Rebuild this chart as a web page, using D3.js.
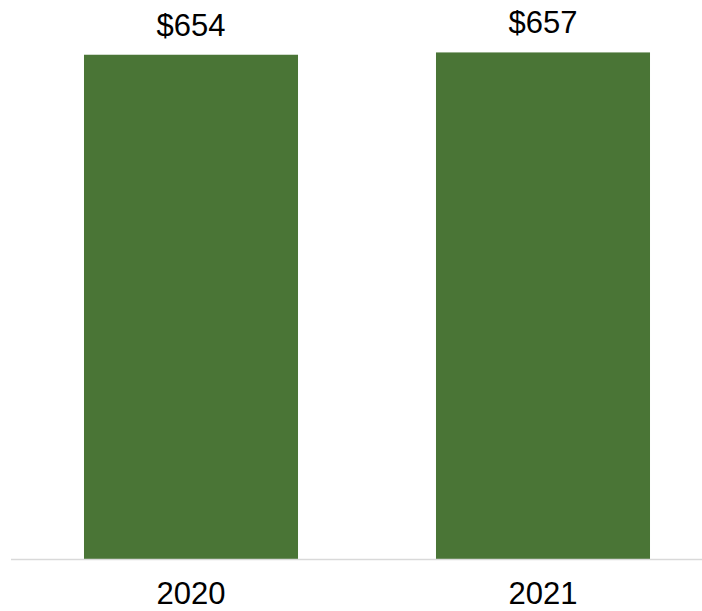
<!DOCTYPE html>
<html>
<head>
<meta charset="utf-8">
<script src="https://cdn.jsdelivr.net/npm/d3@7/dist/d3.min.js"></script>
<style>
  html, body { margin: 0; padding: 0; background: #ffffff; }
  svg { display: block; }
  text { font-family: "Liberation Sans", Arial, sans-serif; fill: #000000; }
</style>
</head>
<body>
<svg id="chart" width="702" height="611"></svg>
<script>
// Annual values (dollars) by year
const years = ["2020", "2021"];
const values = [654, 657];
const valueLabels = ["$654", "$657"];

const width = 702, height = 611;
const baseY = 559;

const svg = d3.select("#chart");

const x = d3.scaleBand()
  .domain(years)
  .range([15, 719])
  .paddingInner(0.392)
  .paddingOuter(0.196);

const y = d3.scaleLinear()
  .domain([0, 725])
  .range([baseY, 0]);

const data = years.map((yr, i) => ({ year: yr, value: values[i], label: valueLabels[i] }));

// Bars
svg.append("g")
  .selectAll("rect")
  .data(data)
  .join("rect")
  .attr("x", d => x(d.year))
  .attr("y", d => y(d.value))
  .attr("width", x.bandwidth())
  .attr("height", d => y(0) - y(d.value))
  .attr("fill", "#4a7536");

// Baseline
svg.append("line")
  .attr("x1", 11)
  .attr("x2", width)
  .attr("y1", y(0) + 0.5)
  .attr("y2", y(0) + 0.5)
  .attr("stroke", "#d9d9d9")
  .attr("stroke-width", 1.5);

// Value labels above bars
svg.append("g")
  .selectAll("text")
  .data(data)
  .join("text")
  .attr("x", d => x(d.year) + x.bandwidth() / 2)
  .attr("y", d => y(d.value) - 19)
  .attr("text-anchor", "middle")
  .style("font-size", "31px")
  .text(d => d.label);

// Category labels
svg.append("g")
  .selectAll("text")
  .data(data)
  .join("text")
  .attr("x", d => x(d.year) + x.bandwidth() / 2)
  .attr("y", 604)
  .attr("text-anchor", "middle")
  .style("font-size", "31px")
  .text(d => d.year);
</script>
</body>
</html>
